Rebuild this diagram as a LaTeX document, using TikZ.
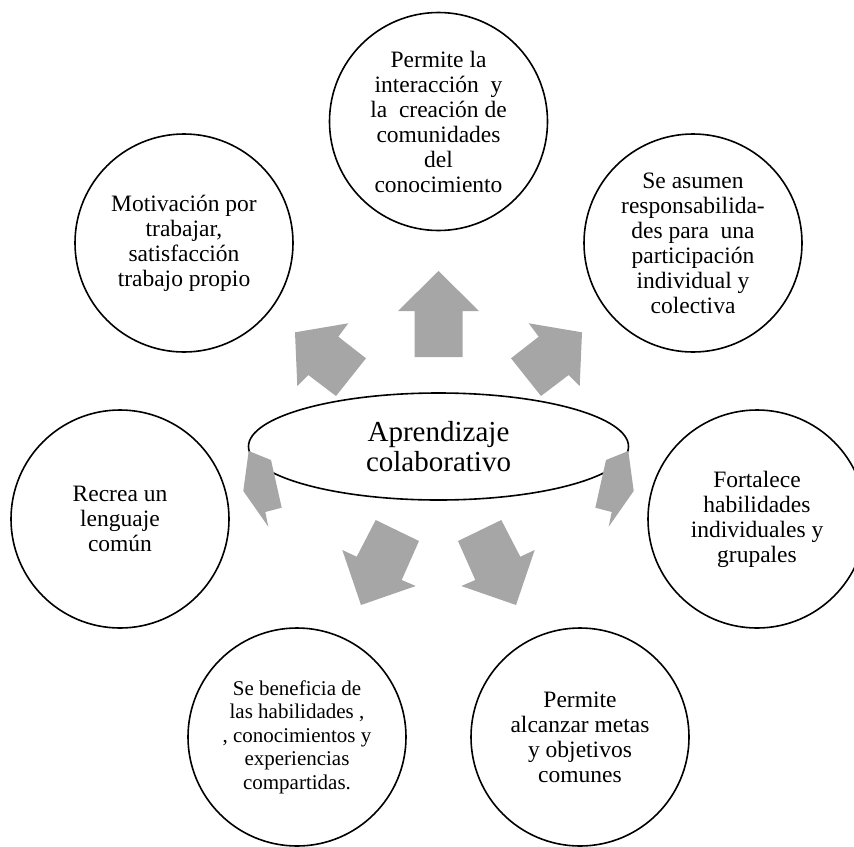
\documentclass[tikz,border=0pt]{standalone}
\usepackage{fontspec}
\setmainfont{Liberation Serif}
\usetikzlibrary{shapes.geometric}
\definecolor{arrowgray}{HTML}{A6A6A6}
\tikzset{
	idea/.style={circle, draw, line width=1.6pt, minimum size=218pt, inner sep=0pt, align=center, font=\fontsize{23.5}{25}\selectfont},
	core/.style={ellipse, draw, line width=1.6pt, minimum width=380pt, minimum height=107pt, inner sep=0pt, align=center, font=\fontsize{29}{30}\selectfont},
	blockarrow/.style={fill=arrowgray}
}
\begin{document}
\begin{tikzpicture}[x=1pt,y=-1pt]
		\useasboundingbox (0,0) rectangle (854,846);
		\node[core] (centro) at (438.5,446.5) {Aprendizaje\\colaborativo};
		% flechas
		\fill[blockarrow] (438.5,271) -- (479,311) -- (462.5,311) -- (462.5,357) -- (414.5,357) -- (414.5,311) -- (398,311) -- cycle;
		\fill[blockarrow] (295,332.3) -- (348.3,323.3) -- (338.3,336.7) -- (366,358.3) -- (336,396) -- (308.3,375) -- (297.3,386) -- cycle;
		\fill[blockarrow] (582,332.3) -- (528.7,323.3) -- (538.7,336.7) -- (511,358.3) -- (541,396) -- (568.7,375) -- (579.7,386) -- cycle;
		\fill[blockarrow] (248.7,451) -- (271,460) -- (281.7,507.7) -- (265.3,512) -- (268.3,526.7) -- (243.3,491) -- cycle;
		\fill[blockarrow] (628.3,451) -- (606,460) -- (595.3,507.7) -- (611.7,512) -- (608.7,526.7) -- (633.7,491) -- cycle;
		\fill[blockarrow] (375.7,520) -- (419,541) -- (401.7,580) -- (415.7,586) -- (361,605) -- (342.3,550) -- (356.7,556.7) -- cycle;
		\fill[blockarrow] (501.3,520) -- (458,541) -- (475.3,580) -- (461.3,586) -- (516,605) -- (534.7,550) -- (520.3,556.7) -- cycle;
		% circulos
		\node[idea] (interaccion) at (438.5,121.5) {Permite la\\interacción\ \ y\\la\ \ creación de\\comunidades\\del\\conocimiento};
		\node[idea] (responsab) at (693,243) {Se asumen\\responsabilida-\\des para\ \ una\\participación\\individual y\\colectiva};
		\node[idea] (motivacion) at (184,243) {Motivación por\\trabajar,\\satisfacción\\trabajo propio};
		\node[idea] (fortalece) at (757,519) {Fortalece\\habilidades\\individuales y\\grupales};
		\node[idea] (lenguaje) at (120,519) {Recrea un\\lenguaje\\común};
		\node[idea] (metas) at (580,737) {Permite\\alcanzar metas\\y objetivos\\comunes};
		\node[idea, font=\fontsize{21}{23.5}\selectfont] (beneficia) at (297,737) {Se beneficia de\\las habilidades ,\\, conocimientos y\\experiencias\\compartidas.};
	\end{tikzpicture}
\end{document}
